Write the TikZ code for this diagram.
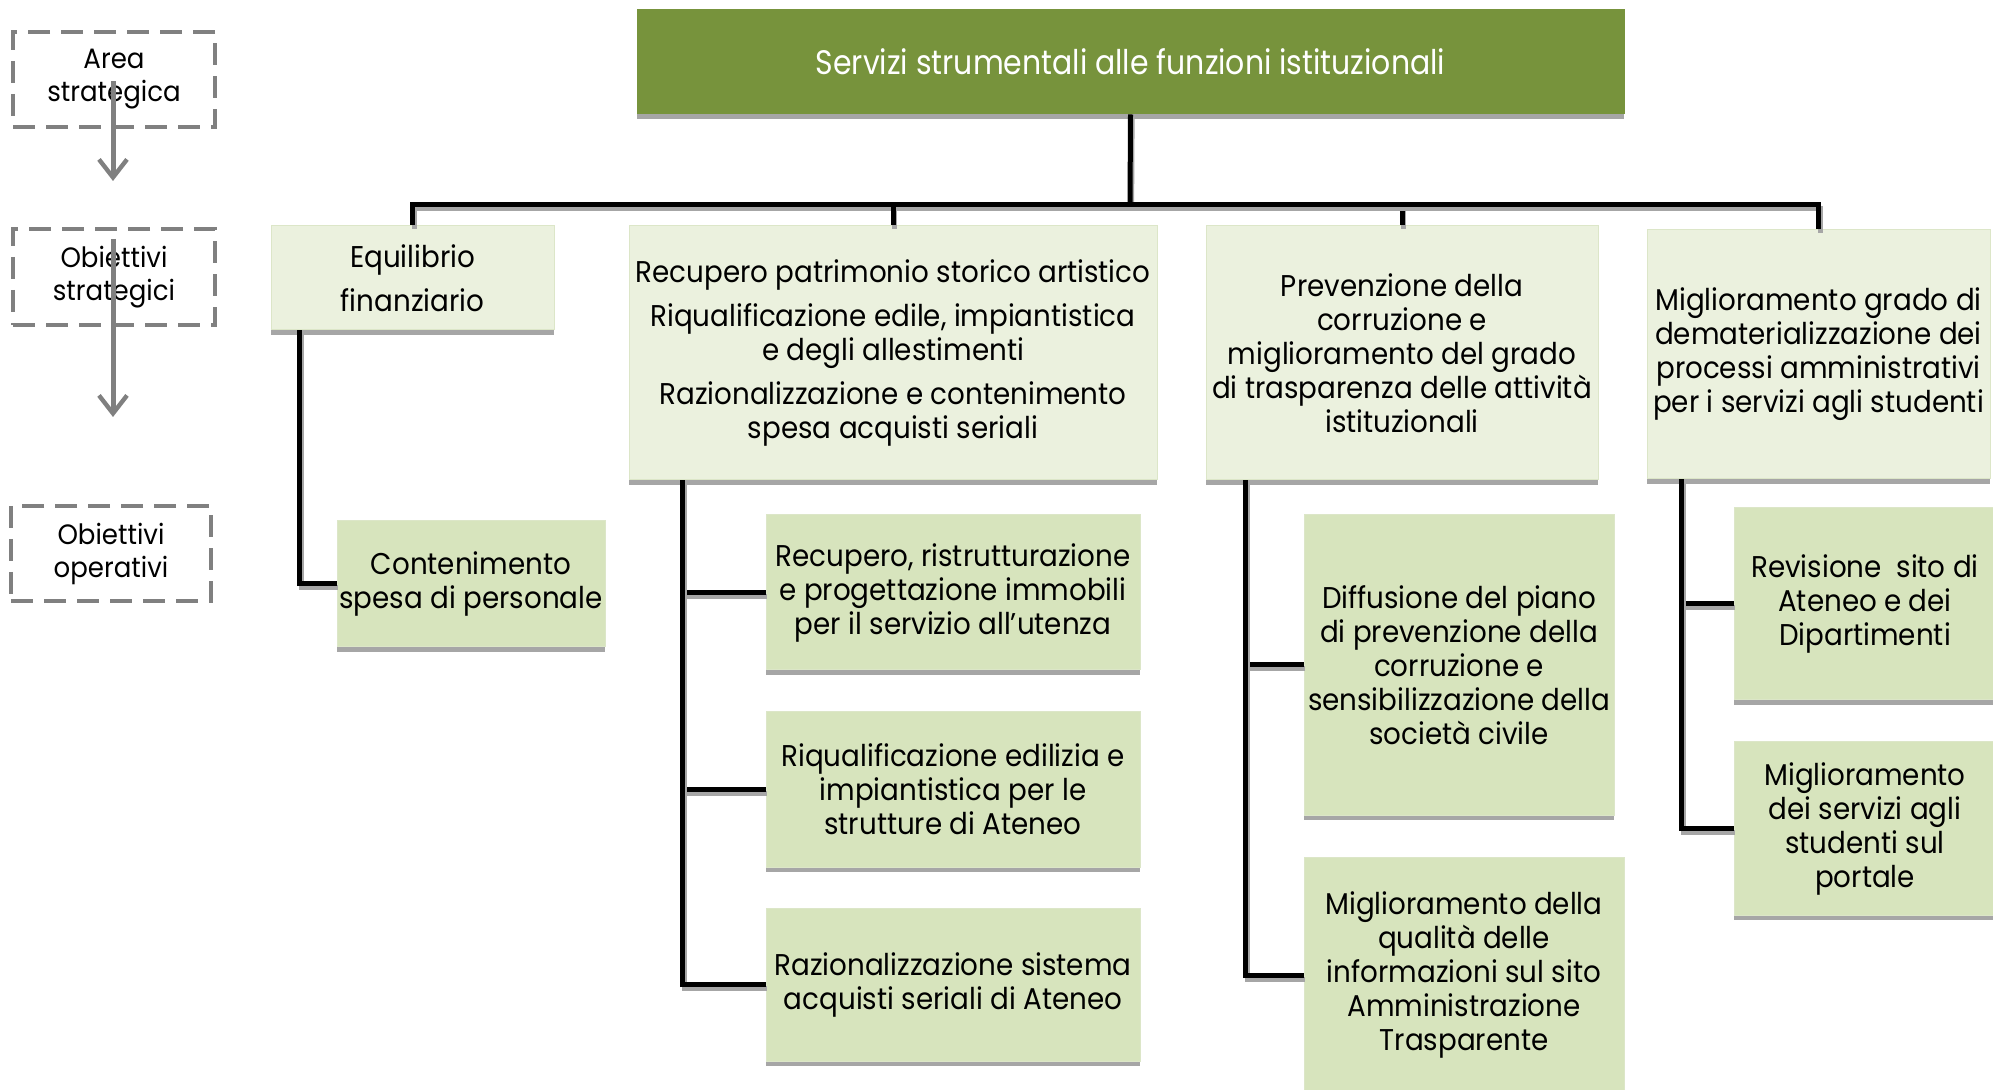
\documentclass[tikz,border=0pt]{standalone}
\usepackage{fontspec}
\setmainfont{Poppins}[FakeStretch=0.925]
\newfontfamily\condfont{Poppins}[FakeStretch=0.88]
\newfontfamily\sidefont{Poppins}[FakeStretch=0.93]
\usetikzlibrary{calc,arrows.meta}
\definecolor{topgreen}{HTML}{77933C}
\definecolor{lightfill}{HTML}{EBF1DE}
\definecolor{midfill}{HTML}{D7E4BD}
\definecolor{boxline}{HTML}{DCE6C8}
\definecolor{shadowgray}{HTML}{A6A6A6}
\definecolor{dashgray}{HTML}{808080}
\newcommand\mainfs{\fontsize{15}{17}\selectfont}
\newcommand\sidefs{\sidefont\fontsize{14}{16.5}\selectfont}
\begin{document}
\begin{tikzpicture}[x=0.5pt,y=-0.5pt,
  sz/.style 2 args={minimum width=#1*0.5pt, minimum height=#2*0.5pt},
  shadowed/.style={preaction={fill=shadowgray, transform canvas={yshift=-2.3pt}}},
  boxbase/.style={shadowed, draw=boxline, line width=0.5pt, align=center, inner sep=0pt, font=\mainfs, text=black},
  topbox/.style={boxbase, fill=topgreen, draw=topgreen, text=white, font=\condfont\fontsize{17}{19}\selectfont},
  lvtwo/.style={boxbase, fill=lightfill},
  lvthree/.style={boxbase, fill=midfill},
  sidebox/.style={draw=dashgray, line width=2pt, dash pattern=on 11pt off 5.5pt, align=center, font=\sidefs},
  conn/.style={line width=2.5pt, black, preaction={draw=shadowgray, line width=2.5pt, transform canvas={xshift=0.8pt,yshift=-2pt}}},
  sidearrow/.style={draw=dashgray, line width=2.5pt, -{Straight Barb[length=9pt,width=14pt,line width=2.2pt]}}
]
\useasboundingbox (0,0) rectangle (1993,1090);

% side legend
\node[sidebox, sz={202}{95}] (A) at (114,79.5) {Area\\strategica};
\node[sidebox, sz={202}{96}] (S) at (114,277) {Obiettivi\\strategici};
\node[sidebox, sz={200}{95}] (O) at (111,553.5) {Obiettivi\\operativi};
\coordinate (a1end) at (113,181);
\coordinate (a2end) at (113,417);
\draw[sidearrow] ($(A.center)+(-1,2)$) -- (a1end);
\draw[sidearrow] ($(S.north)+(-1,12)$) -- (a2end);

% top
\node[topbox, sz={987}{104}] (top) at (1130.5,62) {Servizi strumentali alle funzioni istituzionali};

% level 2
\node[lvtwo, sz={283}{104}] (E1) at (412.5,278) {Equilibrio\\[5pt]finanziario};
\node[lvtwo, sz={528}{254}] (E2) at (893,353) {Recupero patrimonio storico artistico\\[5pt]Riqualificazione edile, impiantistica\\e degli allestimenti\\[5pt]Razionalizzazione e contenimento\\spesa acquisti seriali};
\node[lvtwo, sz={392}{254}] (E3) at (1402,353) {Prevenzione della\\corruzione e\\miglioramento del grado\\di trasparenza delle attività\\istituzionali};
\node[lvtwo, sz={343}{249}] (E4) at (1818.5,354.5) {Miglioramento grado di\\dematerializzazione dei\\processi amministrativi\\per i servizi agli studenti};

% level 3
\node[lvthree, sz={268}{126}] (C1) at (471,584) {Contenimento\\spesa di personale};
\node[lvthree, sz={374}{155}] (R1) at (953,592.5) {Recupero, ristrutturazione\\e progettazione immobili\\per il servizio all’utenza};
\node[lvthree, sz={374}{155}] (R2) at (953,789.5) {Riqualificazione edilizia e\\impiantistica per le\\strutture di Ateneo};
\node[lvthree, sz={374}{153}] (R3) at (953,984.5) {Razionalizzazione sistema\\acquisti seriali di Ateneo};
\node[lvthree, sz={310}{300}] (D1) at (1459,665) {Diffusione del piano\\di prevenzione della\\corruzione e\\sensibilizzazione della\\società civile};
\node[lvthree, sz={320}{236}] (D2) at (1464,975) {Miglioramento della\\qualità delle\\informazioni sul sito\\Amministrazione\\Trasparente};
\node[lvthree, sz={262}{192}] (V1) at (1865,604) {Revisione\ \ sito di\\Ateneo e dei\\Dipartimenti};
\node[lvthree, sz={262}{173}] (V2) at (1865,828.5) {Miglioramento\\dei servizi agli\\studenti sul\\portale};

% connectors top -> level 2
\coordinate (bus) at (1130,205);
\draw[conn] (top.south) -- (bus);
\draw[conn] (bus) -| (E1.north);
\draw[conn] (bus) -| (E2.north);
\draw[conn] (bus) -| (E3.north);
\draw[conn] (bus) -| (E4.north);

% level 2 -> level 3
\draw[conn] ($(E1.south west)+(29,0)$) |- (C1.west);
\draw[conn] ($(E2.south west)+(54,0)$) |- (R1.west);
\draw[conn] ($(E2.south west)+(54,0)$) |- (R2.west);
\draw[conn] ($(E2.south west)+(54,0)$) |- (R3.west);
\draw[conn] ($(E3.south west)+(40,0)$) |- (D1.west);
\draw[conn] ($(E3.south west)+(40,0)$) |- (D2.west);
\draw[conn] ($(E4.south west)+(35,0)$) |- (V1.west);
\draw[conn] ($(E4.south west)+(35,0)$) |- (V2.west);
\end{tikzpicture}
\end{document}
